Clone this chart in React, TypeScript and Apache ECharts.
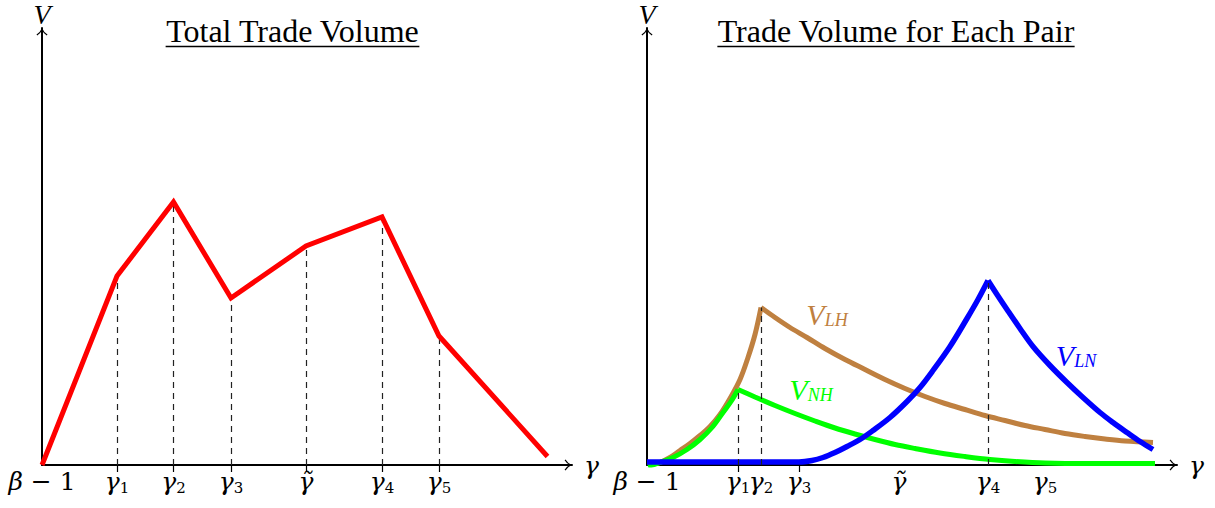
import React, { useEffect, useRef } from 'react';
import * as echarts from 'echarts';

const SERIF = 'Liberation Serif';
const MATH = 'DejaVu Serif';

// ---------- Left panel: total trade volume ----------
const totalTicks = [1.5, 2.63, 3.78, 5.28, 6.8, 7.94];
const tickSymbols = ['γ', 'γ', 'γ', 'γ̃', 'γ', 'γ'];
const tickSubs = ['1', '2', '3', '', '4', '5'];
const totalGamma = [0, 1.5, 2.63, 3.78, 5.28, 6.8, 7.94, 10.11];
const totalVolume = [0, 3.78, 5.26, 3.34, 4.38, 4.96, 2.58, 0.17];

// ---------- Right panel: volume for each pair ----------
const pairTicks = [1.82, 2.28, 3.04, 5.04, 6.82, 7.96];
const pairTickMarks = [1.82, 3.04];

const lhGamma = [0.1, 0.26, 0.46, 0.66, 0.86, 1.06, 1.26, 1.46, 1.66, 1.86, 2.02, 2.16, 2.28, 2.56, 2.86, 3.2, 3.56, 3.96, 4.36, 4.76, 5.16, 5.56, 5.96, 6.36, 6.76, 7.16, 7.56, 7.96, 8.36, 8.76, 9.16, 9.56, 10.12];
const lhVolume = [0.01, 0.05, 0.15, 0.29, 0.43, 0.59, 0.77, 1.01, 1.33, 1.71, 2.15, 2.61, 3.15, 2.95, 2.75, 2.55, 2.33, 2.11, 1.91, 1.71, 1.53, 1.37, 1.23, 1.11, 0.99, 0.89, 0.79, 0.71, 0.63, 0.57, 0.52, 0.48, 0.45];

const nhGamma = [0.02, 0.26, 0.52, 0.8, 1.06, 1.3, 1.52, 1.68, 1.82, 2.16, 2.56, 2.96, 3.36, 3.76, 4.16, 4.56, 4.96, 5.36, 5.86, 6.36, 6.86, 7.36, 7.96, 8.86, 10.16];
const nhVolume = [-0.03, 0.05, 0.15, 0.31, 0.51, 0.75, 1.05, 1.27, 1.51, 1.36, 1.19, 1.03, 0.88, 0.74, 0.62, 0.51, 0.41, 0.33, 0.24, 0.17, 0.11, 0.07, 0.04, 0.03, 0.03];

const lnGamma = [0, 1.06, 2.26, 3.04, 3.3, 3.52, 3.76, 4.0, 4.26, 4.52, 4.86, 5.2, 5.46, 5.72, 6.06, 6.4, 6.62, 6.82, 7.0, 7.2, 7.46, 7.72, 8.06, 8.4, 8.72, 9.06, 9.32, 9.6, 9.86, 10.12];
const lnVolume = [0.06, 0.06, 0.06, 0.06, 0.09, 0.15, 0.25, 0.37, 0.51, 0.69, 0.95, 1.27, 1.55, 1.89, 2.37, 2.93, 3.31, 3.69, 3.41, 3.11, 2.73, 2.37, 1.99, 1.65, 1.35, 1.05, 0.85, 0.65, 0.47, 0.31];

const curveLabels = [
  { name: 'V', sub: 'LH', gamma: 3.6, volume: 3.02 },
  { name: 'V', sub: 'NH', gamma: 3.28, volume: 1.52 },
  { name: 'V', sub: 'LN', gamma: 8.58, volume: 2.2 },
];

const titles = ['Total Trade Volume', 'Trade Volume for Each Pair'];

const COLORS = { total: '#ff0000', lh: '#bf8040', nh: '#00ff00', ln: '#0000ff' };

const zip = (xs: number[], ys: number[]) => xs.map((x, i) => [x, ys[i]]);

const peakIndex = (ys: number[]) => {
  let k = 0;
  ys.forEach((v, i) => {
    if (v > ys[k]) k = i;
  });
  return k;
};

const ARROW = 'path://M6,0 Q7.8,4.4 12,7 L11.2,8 Q7.4,5.6 6,2.4 Q4.6,5.6 0.8,8 L0,7 Q4.2,4.4 6,0 Z';

const mathRich = {
  g: { fontFamily: MATH, fontStyle: 'italic', fontSize: 25, lineHeight: 27, color: '#000' },
  n: { fontFamily: MATH, fontSize: 25, lineHeight: 27, color: '#000' },
  s: { fontFamily: MATH, fontSize: 15, lineHeight: 6, verticalAlign: 'bottom', color: '#000' },
};

const tickFormatter = (ticks: number[]) => (value: number) => {
  if (Math.abs(value) < 1e-9) return '{g|β}{n| − 1}';
  const i = ticks.findIndex((t) => Math.abs(t - value) < 1e-9);
  if (i < 0) return '';
  return tickSubs[i] ? `{g|${tickSymbols[i]}}{s|${tickSubs[i]}}` : `{g|${tickSymbols[i]}}`;
};

const arrowLine = {
  show: true,
  onZero: false,
  symbol: ['none', ARROW],
  symbolSize: [11, 7.5],
  symbolOffset: [0, -3.75],
  lineStyle: { color: '#000', width: 2 },
};

const makeXAxis = (gridIndex: number, labelTicks: number[], markTicks: number[]) => ({
  type: 'value',
  gridIndex,
  min: 0,
  max: 10.6,
  name: 'γ',
  nameLocation: 'end',
  nameGap: 12,
  nameTextStyle: { fontFamily: MATH, fontStyle: 'italic', fontSize: 25, color: '#000' },
  splitLine: { show: false },
  axisLine: arrowLine,
  axisTick: { show: true, customValues: markTicks, length: 7, lineStyle: { color: '#000', width: 1.2 } },
  axisLabel: {
    show: true,
    customValues: [0, ...labelTicks],
    margin: 3,
    formatter: tickFormatter(labelTicks),
    rich: mathRich,
  },
});

const makeYAxis = (gridIndex: number) => ({
  type: 'value',
  gridIndex,
  min: 0,
  max: 8.74,
  name: 'V',
  nameLocation: 'end',
  nameGap: 0,
  nameTextStyle: { fontFamily: SERIF, fontStyle: 'italic', fontSize: 28, lineHeight: 27, color: '#000' },
  splitLine: { show: false },
  axisTick: { show: false },
  axisLabel: { show: false },
  axisLine: arrowLine,
});

const dashStyle = { color: '#222', width: 1.2, type: [6, 5] };

const guide = (x: number, y: number) => [{ coord: [x, 0] }, { coord: [x, y] }];

const curveLabel = (i: number, color: string) => ({
  symbol: 'circle',
  symbolSize: 1,
  silent: true,
  itemStyle: { color: 'rgba(0,0,0,0)' },
  label: {
    show: true,
    position: 'inside',
    formatter: `{v|${curveLabels[i].name}}{s|${curveLabels[i].sub}}`,
    rich: {
      v: { fontFamily: SERIF, fontStyle: 'italic', fontSize: 30, lineHeight: 30, color },
      s: { fontFamily: SERIF, fontStyle: 'italic', fontSize: 18, lineHeight: 5, verticalAlign: 'bottom', color },
    },
  },
  data: [{ coord: [curveLabels[i].gamma, curveLabels[i].volume] }],
});

// A pair curve is drawn as two smoothed pieces meeting at its kink, so the peak stays sharp.
const pairCurve = (name: string, xs: number[], ys: number[], color: string, width: number, labelIdx: number) => {
  const k = peakIndex(ys);
  const base = {
    type: 'line',
    xAxisIndex: 1,
    yAxisIndex: 1,
    symbol: 'none',
    smooth: 0.35,
    lineStyle: { color, width },
  };
  return [
    {
      ...base,
      name,
      data: zip(xs.slice(0, k + 1), ys.slice(0, k + 1)),
      markPoint: curveLabel(labelIdx, color),
    },
    {
      ...base,
      name,
      data: zip(xs.slice(k), ys.slice(k)),
      markLine: {
        silent: true,
        symbol: ['none', 'none'],
        label: { show: false },
        lineStyle: dashStyle,
        data: [guide(xs[k], ys[k])],
      },
    },
  ];
};

const measure = (text: string, font: string) => {
  const ctx = document.createElement('canvas').getContext('2d');
  if (!ctx) return text.length * 14;
  ctx.font = font;
  return ctx.measureText(text).width;
};

export default function App() {
  const ref = useRef<HTMLDivElement>(null);

  useEffect(() => {
    if (!ref.current) return;
    const chart = echarts.init(ref.current, undefined, { renderer: 'svg' });

    const titleSize = 32;
    const titleCenters = [292.5, 896];
    const titleGraphics: any[] = [];
    titles.forEach((t, i) => {
      const w = measure(t, `${titleSize}px ${SERIF}`);
      titleGraphics.push({
        type: 'text',
        x: titleCenters[i],
        y: 31,
        style: {
          text: t,
          fontFamily: SERIF,
          fontSize: titleSize,
          fill: '#000',
          align: 'center',
          verticalAlign: 'middle',
        },
      });
      titleGraphics.push({
        type: 'line',
        shape: { x1: titleCenters[i] - w / 2, y1: 46.5, x2: titleCenters[i] + w / 2, y2: 46.5 },
        style: { stroke: '#000', lineWidth: 1.3 },
      });
    });

    chart.setOption({
      animation: false,
      backgroundColor: '#fff',
      grid: [
        { left: 42, top: 28, width: 530, height: 437, outerBoundsMode: 'none' },
        { left: 647, top: 28, width: 530, height: 437, outerBoundsMode: 'none' },
      ],
      xAxis: [makeXAxis(0, totalTicks, totalTicks), makeXAxis(1, pairTicks, pairTickMarks)],
      yAxis: [makeYAxis(0), makeYAxis(1)],
      graphic: titleGraphics,
      series: [
        {
          name: 'Total',
          type: 'line',
          xAxisIndex: 0,
          yAxisIndex: 0,
          data: zip(totalGamma, totalVolume),
          symbol: 'none',
          lineStyle: { color: COLORS.total, width: 5, join: 'miter' },
          markLine: {
            silent: true,
            z: 1,
            symbol: ['none', 'none'],
            label: { show: false },
            lineStyle: dashStyle,
            data: totalGamma.slice(1, 7).map((g, i) => guide(g, totalVolume[i + 1])),
          },
        },
        ...pairCurve('LH', lhGamma, lhVolume, COLORS.lh, 5, 0),
        ...pairCurve('NH', nhGamma, nhVolume, COLORS.nh, 5, 1),
        ...pairCurve('LN', lnGamma, lnVolume, COLORS.ln, 5.5, 2),
      ],
    });

    return () => chart.dispose();
  }, []);

  return (
    <div
      ref={ref}
      style={{ position: 'fixed', left: 0, top: 0, width: 1215, height: 508, background: '#fff' }}
    />
  );
}
